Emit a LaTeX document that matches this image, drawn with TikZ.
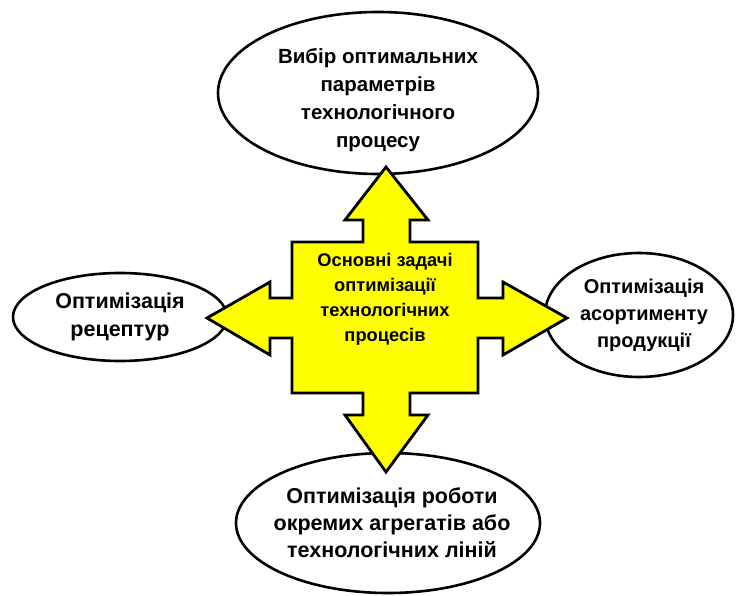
\documentclass[tikz,border=0pt]{standalone}
\usepackage{fontspec}
\setmainfont{Liberation Sans}
\usetikzlibrary{shapes.geometric}
\definecolor{zhovtyi}{HTML}{FFFF00}
\tikzset{
  ovalbox/.style={ellipse, draw=black, line width=2.6pt, fill=white,
    inner sep=0pt},
  ovaltext/.style={align=center, font=\bfseries\fontsize{20.5}{28}\selectfont},
  khrest/.style={draw=black, line width=2.8pt, fill=zhovtyi, line join=miter},
}

\begin{document}
\begin{tikzpicture}[x=1pt,y=-1pt]
    \useasboundingbox (0,0) rectangle (736,596);
    % chotyry zadachi
    \node[ovalbox, minimum width=320pt, minimum height=162pt,
      label={[ovaltext, yshift=-7pt]center:Вибір оптимальних\\параметрів\\технологічного\\процесу}] (vybir) at (378,93) {};
    \node[ovalbox, minimum width=214pt, minimum height=88pt,
      label={[ovaltext, font=\bfseries\fontsize{21.5}{28}\selectfont]center:Оптимізація\\рецептур}] (retseptury) at (120,317) {};
    \node[ovalbox, minimum width=188pt, minimum height=124pt,
      label={[ovaltext, xshift=5pt, font=\bfseries\fontsize{20}{27}\selectfont]center:Оптимізація\\асортименту\\продукції}] (asortyment) at (639,315) {};
    \node[ovalbox, minimum width=304pt, minimum height=140pt,
      label={[ovaltext, xshift=4pt, font=\bfseries\fontsize{21.5}{27}\selectfont]center:Оптимізація роботи\\окремих агрегатів або\\технологічних ліній}] (ahrehaty) at (388,523) {};
    % zhovta khrestovyna
    \draw[khrest] (292,242) -- (363,242) -- (363,220) -- (345,220) -- (386,167)
      -- (428,220) -- (410,220) -- (410,242) -- (478,242) -- (478,298)
      -- (503,298) -- (503,282) -- (567,318) -- (503,355) -- (503,338)
      -- (478,338) -- (478,393) -- (410,393) -- (410,415) -- (428,415)
      -- (386,472) -- (345,415) -- (363,415) -- (363,393) -- (292,393)
      -- (292,338) -- (270,338) -- (270,355) -- (207,318) -- (270,282)
      -- (270,298) -- (292,298) -- cycle;
    \node[align=center, font=\bfseries\fontsize{18.3}{25}\selectfont] (zadachi) at (385,299)
      {Основні задачі\\оптимізації\\технологічних\\процесів};
\end{tikzpicture}
\end{document}
